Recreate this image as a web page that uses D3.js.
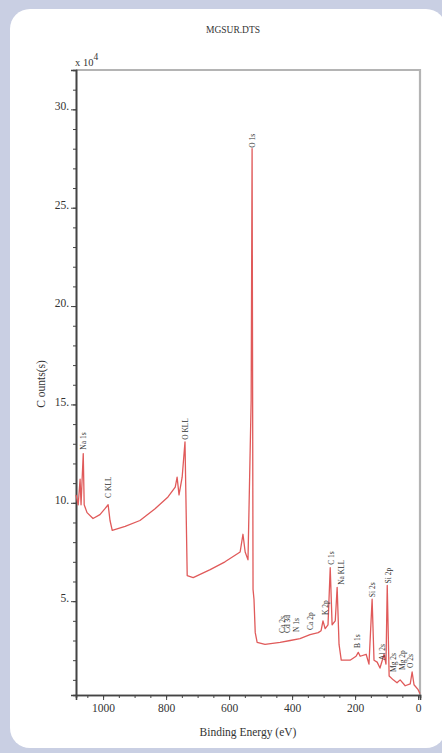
<!DOCTYPE html>
<html>
<head>
<meta charset="utf-8">
<script src="https://cdn.jsdelivr.net/npm/d3@7"></script>
<style>
  html, body { margin: 0; padding: 0; background: #c9cfe3; }
  svg { display: block; }
  text { font-family: "Liberation Serif", "Times New Roman", serif; fill: #333; }
</style>
</head>
<body>
<script>
// Spectrum (binding energy in eV, counts in units of 10^4)
const bindingEnergy = [
  1086, 1079, 1073, 1070, 1063, 1060, 1051, 1032, 1010, 994,
  984, 978, 971, 930, 883, 835, 794, 771, 765, 759,
  749, 740, 737, 733, 714, 660, 613, 565, 556, 549,
  540, 530, 527, 524, 521, 517, 511, 486, 438, 406,
  375, 343, 317, 308, 302, 295, 286, 279, 273, 263,
  257, 251, 244, 216, 197, 190, 184, 165, 156, 146,
  140, 130, 121, 108, 102, 98, 92, 79, 67, 57,
  41, 25, 19, 13, 0, -6
];
const counts = [
  10.4, 9.9, 11.2, 9.9, 12.5, 9.9, 9.5, 9.2, 9.4, 9.7,
  9.9, 9.1, 8.6, 8.8, 9.1, 9.7, 10.3, 10.8, 11.3, 10.4,
  11.3, 13.1, 10.2, 6.3, 6.2, 6.6, 7.0, 7.5, 8.4, 7.5,
  7.1, 15.2, 28.0, 5.6, 5.1, 3.4, 2.9, 2.8, 2.9, 3.0,
  3.1, 3.3, 3.4, 3.5, 4.0, 3.6, 3.8, 6.7, 3.8, 4.0,
  5.7, 2.8, 2.0, 2.0, 2.2, 2.4, 2.2, 2.3, 1.8, 5.1,
  2.0, 1.9, 1.6, 2.3, 1.8, 5.8, 1.2, 1.0, 0.85, 1.0,
  0.7, 0.8, 1.4, 0.75, 0.5, 0.3
];

// Peak labels: name, energy, counts at label base
const peakNames = ['Na 1s', 'C KLL', 'O KLL', 'O 1s', 'Ca 2s', 'Cd 3d', 'N 1s', 'Ca 2p', 'K 2p',
  'C 1s', 'Na KLL', 'B 1s', 'Si 2s', 'Al 2s', 'Si 2p', 'Mg 2s', 'Mg 2p', 'O 2s'];
const peakEnergies = [1063, 984, 740, 527, 432, 416, 387, 343, 295,
  276, 244, 194, 146, 114, 95, 79, 51, 25];
const peakLabelCounts = [12.7, 10.25, 13.2, 28.05, 3.38, 3.38, 3.43, 3.54, 4.3,
  6.85, 5.83, 2.62, 5.2, 2.0, 5.9, 1.4, 1.5, 1.6];

const xMajorTicks = [1000, 800, 600, 400, 200, 0];
const yMajorTicks = [5, 10, 15, 20, 25, 30];

const width = 442, height = 753;
const plot = { left: 76, right: 420, top: 70, bottom: 695 };

const svg = d3.select('body').append('svg')
  .attr('width', width)
  .attr('height', height);

// card
svg.append('rect')
  .attr('x', 10).attr('y', 9)
  .attr('width', 436).attr('height', 739)
  .attr('rx', 20).attr('ry', 20)
  .attr('fill', '#fff');

const x = d3.scaleLinear().domain([1086, -6]).range([plot.left, plot.right]);
const y = d3.scaleLinear().domain([0.23, 32]).range([plot.bottom, plot.top]);

// top and right frame (grey)
svg.append('path')
  .attr('d', `M${plot.left},${plot.top}H${plot.right}V${plot.bottom}`)
  .attr('fill', 'none')
  .attr('stroke', '#b4b4b4')
  .attr('stroke-width', 2.2);

// minor ticks
const xAxisMinor = d3.axisBottom(x).tickValues(d3.range(0, 1086, 50)).tickSize(3).tickFormat('');
const yAxisMinor = d3.axisLeft(y).tickValues(d3.range(1, 33, 1)).tickSize(3).tickFormat('');
svg.append('g').attr('transform', `translate(0,${plot.bottom})`).call(xAxisMinor);
svg.append('g').attr('transform', `translate(${plot.left},0)`).call(yAxisMinor);

// major ticks with labels
const xAxis = d3.axisBottom(x).tickValues(xMajorTicks).tickSize(5).tickPadding(4).tickFormat(d3.format('d'));
const yAxis = d3.axisLeft(y).tickValues(yMajorTicks).tickSize(5).tickPadding(2).tickFormat(d => d + '.');
const gx = svg.append('g').attr('transform', `translate(0,${plot.bottom})`).call(xAxis);
const gy = svg.append('g').attr('transform', `translate(${plot.left},0)`).call(yAxis);

svg.selectAll('.domain').attr('stroke', '#444').attr('stroke-width', 1.6);
svg.selectAll('.tick line').attr('stroke', '#444');
gx.selectAll('text').attr('font-size', 11.5).attr('font-family', '"Liberation Serif", serif').attr('fill', '#333');
gy.selectAll('text').attr('font-size', 11.5).attr('font-family', '"Liberation Serif", serif').attr('fill', '#333').attr('dy', '0.05em');

// spectrum line
const spectrum = bindingEnergy.map((e, i) => ({ e, c: counts[i] }));
const line = d3.line().x(d => x(d.e)).y(d => y(d.c));
svg.append('path')
  .datum(spectrum)
  .attr('d', line)
  .attr('fill', 'none')
  .attr('stroke', '#e05a5a')
  .attr('stroke-width', 1.3)
  .attr('stroke-linejoin', 'round');

// peak labels (rotated)
svg.append('g').selectAll('text')
  .data(peakNames.map((name, i) => ({ name, e: peakEnergies[i], c: peakLabelCounts[i] })))
  .join('text')
  .attr('transform', d => `translate(${x(d.e)},${y(d.c)}) rotate(-90)`)
  .attr('dy', '0.35em')
  .attr('font-size', 7.5)
  .attr('text-anchor', 'start')
  .text(d => d.name);

// titles
svg.append('text')
  .attr('x', 233).attr('y', 33)
  .attr('text-anchor', 'middle')
  .attr('font-size', 9.5)
  .text('MGSUR.DTS');

const scaleNote = svg.append('text').attr('x', 75).attr('y', 66).attr('font-size', 10.5);
scaleNote.append('tspan').text('x 10');
scaleNote.append('tspan').attr('dy', -6).attr('font-size', 9.5).text('4');

svg.append('text')
  .attr('transform', `translate(45,384) rotate(-90)`)
  .attr('text-anchor', 'middle')
  .attr('font-size', 11.5)
  .text('C ounts(s)');

svg.append('text')
  .attr('x', 248).attr('y', 736)
  .attr('text-anchor', 'middle')
  .attr('font-size', 11.5)
  .text('Binding Energy (eV)');
</script>
</body>
</html>
